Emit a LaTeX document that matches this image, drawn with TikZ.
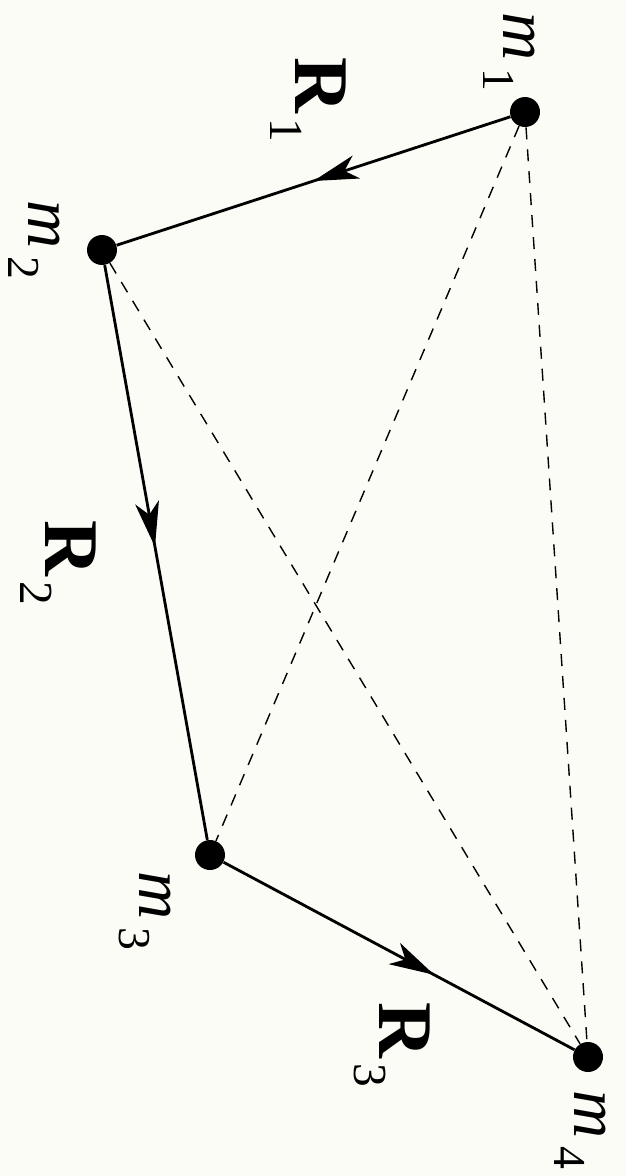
\documentclass[tikz,border=0pt]{standalone}
\usepackage{fontspec}
\setmainfont{Liberation Serif}
\usetikzlibrary{arrows.meta,decorations.markings}
\newcommand\mlab[1]{\textit{m}\kern0.12em\raisebox{-0.3em}{\fontsize{26}{30}\selectfont #1}}
\newcommand\Rlab[1]{\textbf{R}\kern0.05em\raisebox{-0.32em}{\fontsize{27}{30}\selectfont #1}}
\definecolor{paper}{HTML}{FBFCF6}
\tikzset{
  dot/.style={circle,fill=black,inner sep=0pt,minimum size=0.6cm},
  mlabel/.style={rotate=-90,inner sep=0pt,font=\fontsize{38}{42}\selectfont},
  rlabel/.style={rotate=-90,inner sep=0pt,font=\fontsize{44}{48}\selectfont},
  vec/.style={line width=1.6pt},
  pair/.style={line width=0.8pt,dash pattern=on 0.24cm off 0.2cm},
  arrowat/.style={postaction={decorate,decoration={markings,
     mark=at position #1 with {\arrow{Stealth[length=0.9cm,width=0.48cm,inset=0.25cm]}}}}}
}
\begin{document}
\begin{tikzpicture}[x=0.02cm,y=-0.02cm]
\fill[paper] (0,0) rectangle (626,1176);
\useasboundingbox (0,0) rectangle (626,1176);
% masses
\node[dot] (m1) at (525,112) {};
\node[dot] (m2) at (102,250) {};
\node[dot] (m3) at (210,855) {};
\node[dot] (m4) at (588,1057) {};
% pair distances
\draw[pair] (m1) -- (m3);
\draw[pair] (m1) -- (m4);
\draw[pair] (m2) -- (m4);
% Jacobi vectors
\draw[vec,arrowat=0.5] (m1) -- (m2);
\draw[vec,arrowat=0.49] (m2) -- (m3);
\draw[vec,arrowat=0.6] (m3) -- (m4);
% labels
\node[mlabel] (l1) at (509,52) {\mlab{1}};
\node[mlabel] (l2) at (34,240) {\mlab{2}};
\node[mlabel] (l3) at (145,911) {\mlab{3}};
\node[mlabel] (l4) at (580,1130) {\mlab{4}};
\node[rlabel] (r1) at (308,100) {\Rlab{1}};
\node[rlabel] (r2) at (58,563) {\Rlab{2}};
\node[rlabel] (r3) at (392,1045) {\Rlab{3}};
\end{tikzpicture}
\end{document}
